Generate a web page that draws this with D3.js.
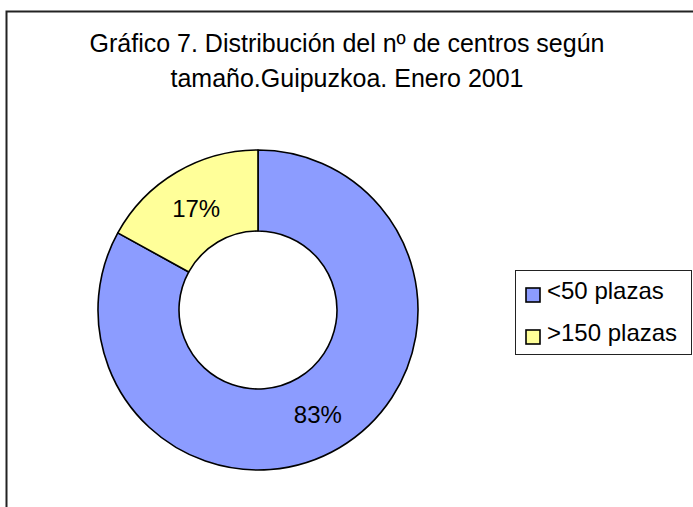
<!DOCTYPE html>
<html><head><meta charset="utf-8">
<script src="https://cdnjs.cloudflare.com/ajax/libs/d3/7.8.5/d3.min.js"></script>
<style>body{margin:0;background:#fff}svg{display:block}</style>
</head><body>
<script>
const categories = ["<50 plazas", ">150 plazas"];
const values = [83, 17];
const labels = ["83%", "17%"];
const colors = ["#8C9CFF", "#FFFF99"];
const titleLines = ["Gráfico 7. Distribución del nº de centros según", "tamaño.Guipuzkoa. Enero 2001"];

const W = 693, H = 507;
const font = "Liberation Sans, Arial, sans-serif";
const svg = d3.select("body").append("svg").attr("width", W).attr("height", H);
svg.append("rect").attr("width", W).attr("height", H).attr("fill", "#fff");
// chart border (only top/left visible)
svg.append("path").attr("d", `M6.5,${H} V11.5 H${W}`).attr("fill", "none").attr("stroke", "#222").attr("stroke-width", 2);

svg.selectAll("text.title").data(titleLines).enter().append("text")
  .attr("class", "title").attr("x", 347).attr("y", (d, i) => 52 + i * 35)
  .attr("text-anchor", "middle").attr("font-family", font)
  .attr("font-size", 25).attr("fill", "#000").text(d => d);

const cx = 258, cy = 310, R = 160, r = 79;
const pie = d3.pie().sort(null).value(d => d);
const arcs = pie(values);
const arc = d3.arc().innerRadius(r).outerRadius(R);
const g = svg.append("g").attr("transform", `translate(${cx},${cy})`);
g.selectAll("path").data(arcs).enter().append("path")
  .attr("d", arc).attr("fill", (d, i) => colors[i])
  .attr("stroke", "#000").attr("stroke-width", 1.6).attr("stroke-linejoin", "round");
g.selectAll("text").data(arcs).enter().append("text")
  .attr("transform", d => { const c = arc.centroid(d); return `translate(${c[0] - 1},${c[1] + 10})`; })
  .attr("text-anchor", "middle").attr("font-family", font)
  .attr("font-size", 24).attr("fill", "#000").text((d, i) => labels[i]);

// legend
const lg = svg.append("g");
lg.append("rect").attr("x", 515.5).attr("y", 270.5).attr("width", 176).attr("height", 84)
  .attr("fill", "#fff").attr("stroke", "#222").attr("stroke-width", 1);
const items = lg.selectAll("g.item").data(categories).enter().append("g").attr("class", "item")
  .attr("transform", (d, i) => `translate(0,${i * 42})`);
items.append("rect").attr("x", 526).attr("y", 288).attr("width", 14).attr("height", 14)
  .attr("fill", (d, i) => colors[i]).attr("stroke", "#000").attr("stroke-width", 1.6);
items.append("text").attr("x", 547).attr("y", 299)
  .attr("font-family", font).attr("font-size", 24).attr("fill", "#000")
  .text(d => d);
</script>
</body></html>
